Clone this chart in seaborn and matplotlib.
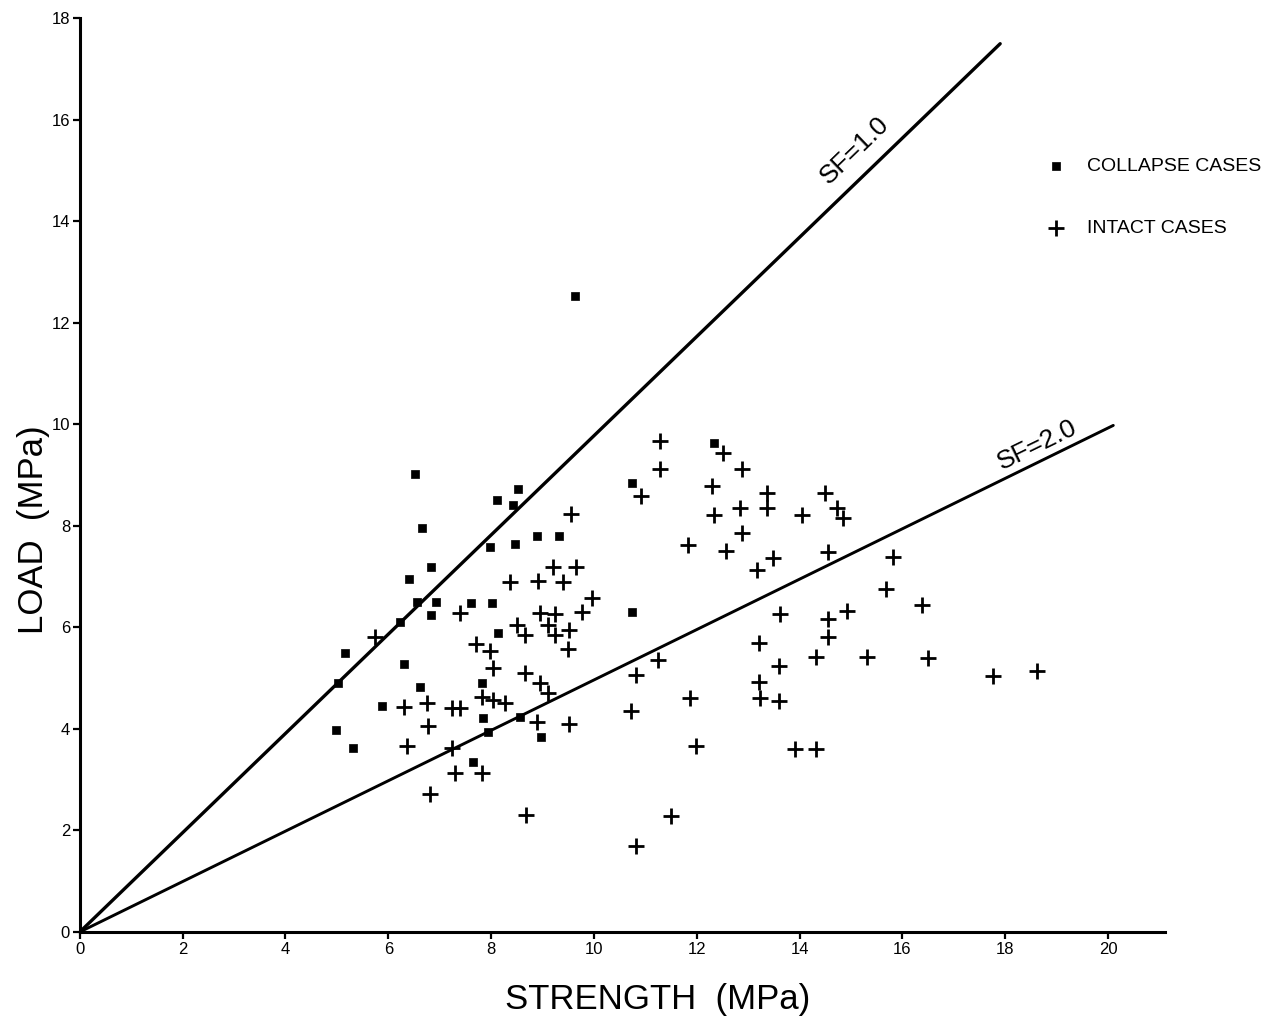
import matplotlib
matplotlib.use("Agg")
import matplotlib.pyplot as plt
import seaborn as sns
import pandas as pd

# ---- data ----
collapse_strength = [9.63, 6.52, 8.52, 8.11, 8.42, 10.74, 12.33, 6.65, 8.89, 9.32,
                     7.98, 8.46, 6.83, 6.40, 6.56, 6.93, 8.02, 7.61, 6.83, 6.23,
                     10.74, 5.16, 6.30, 5.02, 6.61, 5.88, 8.13, 7.82, 7.84, 8.56,
                     7.94, 8.97, 4.98, 5.31, 7.65]
collapse_load = [12.52, 9.02, 8.72, 8.52, 8.41, 8.84, 9.63, 7.95, 7.81, 7.80,
                 7.58, 7.64, 7.19, 6.95, 6.50, 6.50, 6.48, 6.48, 6.24, 6.10,
                 6.30, 5.49, 5.28, 4.90, 4.82, 4.45, 5.89, 4.90, 4.21, 4.23,
                 3.94, 3.84, 3.98, 3.62, 3.35]

intact_strength = [9.55, 10.91, 11.28, 12.51, 11.28, 12.88, 12.30, 13.37, 14.49, 12.84,
                   13.37, 12.33, 14.05, 14.73, 14.84, 12.88, 11.83, 12.57, 14.55, 13.48,
                   13.17, 15.82, 15.68, 16.38, 13.62, 14.55, 14.92, 13.21, 14.55, 11.25,
                   10.82, 13.60, 14.32, 15.31, 16.50, 13.21, 10.72, 11.87, 13.23, 13.60,
                   11.98, 13.91, 14.32, 11.50, 10.82, 17.76, 18.62, 8.37, 8.91, 9.40,
                   9.20, 9.65, 9.96, 9.77, 8.95, 9.24, 7.39, 8.50, 8.66, 9.11,
                   9.24, 9.51, 9.49, 5.74, 7.70, 7.98, 8.04, 8.66, 8.95, 9.11,
                   7.82, 8.04, 8.27, 8.89, 9.51, 6.30, 6.75, 7.24, 7.39, 6.77,
                   6.36, 7.24, 7.30, 7.82, 6.81, 8.68]
intact_load = [8.23, 8.58, 9.67, 9.43, 9.13, 9.13, 8.78, 8.64, 8.64, 8.35,
               8.35, 8.21, 8.21, 8.35, 8.15, 7.87, 7.62, 7.50, 7.48, 7.36,
               7.13, 7.38, 6.75, 6.44, 6.26, 6.16, 6.32, 5.69, 5.81, 5.35,
               5.06, 5.24, 5.41, 5.41, 5.39, 4.92, 4.35, 4.61, 4.61, 4.55,
               3.66, 3.60, 3.60, 2.28, 1.69, 5.04, 5.14, 6.89, 6.91, 6.89,
               7.19, 7.19, 6.57, 6.30, 6.28, 6.26, 6.28, 6.04, 5.85, 6.04,
               5.85, 5.94, 5.57, 5.81, 5.67, 5.53, 5.20, 5.10, 4.90, 4.70,
               4.63, 4.57, 4.51, 4.13, 4.09, 4.43, 4.51, 4.41, 4.41, 4.06,
               3.66, 3.62, 3.13, 3.13, 2.72, 2.30]

sf1_strength = [0.0, 17.9]
sf1_load = [0.0, 17.5]
sf2_strength = [0.0, 20.1]
sf2_load = [0.0, 9.98]

x_ticks = [0, 2, 4, 6, 8, 10, 12, 14, 16, 18, 20]
y_ticks = [0, 2, 4, 6, 8, 10, 12, 14, 16, 18]

# ---- style ----
sns.set_theme(style="ticks")
plt.rcParams['font.family'] = ['Liberation Sans', 'DejaVu Sans']

fig = plt.figure(figsize=(12.66, 10.18), dpi=100)
ax = fig.add_axes([0.063, 0.0845, 0.857, 0.8975])

df_c = pd.DataFrame({"strength": collapse_strength, "load": collapse_load})
df_i = pd.DataFrame({"strength": intact_strength, "load": intact_load})

sns.lineplot(x=sf1_strength, y=sf1_load, ax=ax, color="black", linewidth=2.4,
             estimator=None, legend=False)
sns.lineplot(x=sf2_strength, y=sf2_load, ax=ax, color="black", linewidth=2.1,
             estimator=None, legend=False)

sns.scatterplot(data=df_c, x="strength", y="load", ax=ax, marker="s", s=32,
                color="black", edgecolor="black", linewidth=0.5,
                label="COLLAPSE CASES")
sns.scatterplot(data=df_i, x="strength", y="load", ax=ax, marker="+", s=130,
                color="black", linewidth=2.0, label="INTACT CASES")

ax.set_xlim(0, 21.1)
ax.set_ylim(0, 18)
ax.set_xticks(x_ticks)
ax.set_yticks(y_ticks)
ax.set_xticklabels([str(t) for t in x_ticks], fontsize=12)
ax.set_yticklabels([str(t) for t in y_ticks], fontsize=12)
ax.tick_params(axis="both", direction="out", length=5, width=1.6, pad=2,
               colors="black")

for side in ("top", "right"):
    ax.spines[side].set_visible(False)
for side in ("left", "bottom"):
    ax.spines[side].set_color("black")
    ax.spines[side].set_linewidth(2.2)

ax.set_xlabel("STRENGTH  (MPa)", fontsize=25, color="black")
ax.set_ylabel("LOAD  (MPa)", fontsize=25, color="black")
ax.xaxis.set_label_coords(0.533, -0.056)
ax.yaxis.set_label_coords(-0.027, 0.44)

ax.text(15.08, 15.39, "SF=1.0", rotation=44, fontsize=19, ha="center",
        va="center", color="black")
ax.text(18.62, 9.6, "SF=2.0", rotation=26, fontsize=19, ha="center",
        va="center", color="black")

leg = ax.legend(loc="upper left", bbox_to_anchor=(0.866, 0.867), frameon=False,
                fontsize=14, handletextpad=0.6, labelspacing=2.3,
                markerscale=1.0)
for t in leg.get_texts():
    t.set_color("black")

fig.savefig("out.png", dpi=100, facecolor="white")
